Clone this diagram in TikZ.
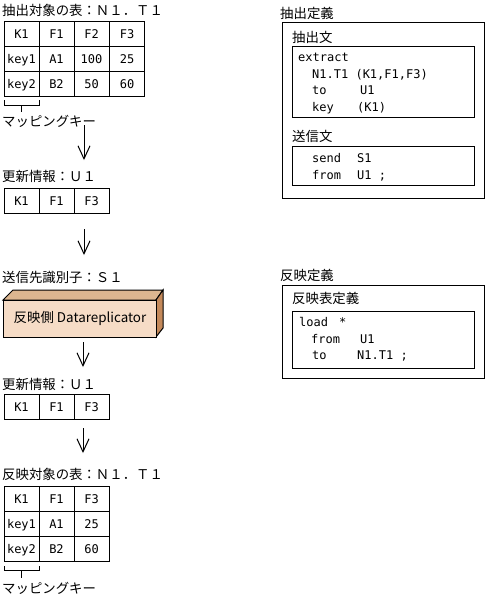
\documentclass[tikz,border=0pt]{standalone}
\usepackage{fontspec}
\newfontfamily\jpfont{Noto Sans CJK JP}
\newfontfamily\monofont{DejaVu Sans Mono}
\usetikzlibrary{arrows.meta}
\definecolor{boxfront}{HTML}{F6DCC6}
\definecolor{boxtop}{HTML}{DCB690}
\definecolor{boxside}{HTML}{C4895A}
\tikzset{
  cell/.style={draw, line width=1pt, minimum width=35pt, minimum height=25pt, inner sep=0pt,
    font=\monofont\fontsize{12}{14}\selectfont, text height=9pt, text depth=0pt},
  ttl/.style={anchor=west, inner sep=0pt, font=\jpfont\fontsize{13.4}{15}\selectfont},
  code/.style={anchor=base west, inner sep=0pt, font=\monofont\fontsize{12}{14}\selectfont},
  frame/.style={draw, line width=1pt},
  flow/.style={draw, line width=1pt, -{Straight Barb[length=13pt,width=12pt,line width=1pt]}},
}
\begin{document}
\begin{tikzpicture}[x=1pt,y=-1pt]
\useasboundingbox (0,0) rectangle (487,600);

% ---------- left column ----------
\node[ttl] (t1) at (2,10) {抽出対象の表：Ｎ１．Ｔ１};
\node[cell] (a11) at (21.5,34) {K1};
\node[cell] (a12) at (56.5,34) {F1};
\node[cell] (a13) at (91.5,34) {F2};
\node[cell] (a14) at (127,34) {F3};
\node[cell] (a21) at (21.5,59) {key1};
\node[cell] (a22) at (56.5,59) {A1};
\node[cell] (a23) at (91.5,59) {100};
\node[cell] (a24) at (127,59) {25};
\node[cell] (a31) at (21.5,84) {key2};
\node[cell] (a32) at (56.5,84) {B2};
\node[cell] (a33) at (91.5,84) {50};
\node[cell] (a34) at (127,84) {60};
\draw[line width=1pt] (4,100) -- (4,105) -- (39,105) -- (39,100);
\draw[line width=1pt] (21.5,105) -- (21.5,112);
\node[ttl] (mk1) at (2,121.5) {マッピングキー};

\coordinate (f1s) at (84,125);
\coordinate (f1e) at (84,160);
\draw[flow] (f1s) -- (f1e);

\node[ttl] (t2) at (2,176) {更新情報：Ｕ１};
\node[cell] (b1) at (21.5,200.5) {K1};
\node[cell] (b2) at (56.5,200.5) {F1};
\node[cell] (b3) at (91.5,200.5) {F3};

\coordinate (f2s) at (84,229);
\coordinate (f2e) at (84,255);
\draw[flow] (f2s) -- (f2e);

\node[ttl] (t3) at (2,277) {送信先識別子：Ｓ１};
\draw[line width=1pt, fill=boxtop] (3,300) -- (13,290) -- (163,290) -- (156,300) -- cycle;
\draw[line width=1pt, fill=boxside] (156,300) -- (163,290) -- (163,328) -- (156,337) -- cycle;
\draw[line width=1pt, fill=boxfront] (3,300) rectangle (156,337);
\node[inner sep=0pt, font=\jpfont\fontsize{13.4}{15}\selectfont] (dr) at (80,318.5) {反映側 Datareplicator};

\coordinate (f3s) at (83,342);
\coordinate (f3e) at (83,367);
\draw[flow] (f3s) -- (f3e);

\node[ttl] (t4) at (2,384) {更新情報：Ｕ１};
\node[cell] (c1) at (21.5,406.8) {K1};
\node[cell] (c2) at (56.5,406.8) {F1};
\node[cell] (c3) at (91.5,406.8) {F3};

\coordinate (f4s) at (83,428);
\coordinate (f4e) at (83,453);
\draw[flow] (f4s) -- (f4e);

\node[ttl] (t5) at (2,474) {反映対象の表：Ｎ１．Ｔ１};
\node[cell] (d11) at (21.5,499.2) {K1};
\node[cell] (d12) at (56.5,499.2) {F1};
\node[cell] (d13) at (91.5,499.2) {F3};
\node[cell] (d21) at (21.5,524.2) {key1};
\node[cell] (d22) at (56.5,524.2) {A1};
\node[cell] (d23) at (91.5,524.2) {25};
\node[cell] (d31) at (21.5,549.2) {key2};
\node[cell] (d32) at (56.5,549.2) {B2};
\node[cell] (d33) at (91.5,549.2) {60};
\draw[line width=1pt] (4,566) -- (4,570.5) -- (39,570.5) -- (39,566);
\draw[line width=1pt] (21.5,570.5) -- (21.5,578);
\node[ttl] (mk2) at (2,588) {マッピングキー};

% ---------- right column ----------
\node[ttl] (r1) at (280,13) {抽出定義};
\draw[frame] (282,22) rectangle (484,198);
\node[ttl] (r2) at (292,37) {抽出文};
\draw[frame] (292.3,46.7) rectangle (474,117.3);
\node[code] (e1) at (298,61.5) {extract};
\node[code] (e2) at (298,78.2) {\hspace*{14pt}N1.T1 (K1,F1,F3)};
\node[code] (e3) at (298,94.9) {\hspace*{14pt}\makebox[48pt][l]{to}U1};
\node[code] (e4) at (298,111.6) {\hspace*{14pt}\makebox[45pt][l]{key}(K1)};
\node[ttl] (r3) at (292,136) {送信文};
\draw[frame] (292.3,146.7) rectangle (474,185);
\node[code] (s1) at (298,162.5) {\hspace*{14pt}\makebox[45pt][l]{send}S1};
\node[code] (s2) at (298,179.2) {\hspace*{14pt}\makebox[45pt][l]{from}U1 ;};

\node[ttl] (r4) at (280,275) {反映定義};
\draw[frame] (282,285) rectangle (484,378.3);
\node[ttl] (r5) at (292,298) {反映表定義};
\draw[frame] (292.3,311) rectangle (474,368.3);
\node[code] (l1) at (299,326.5) {\makebox[40pt][l]{load}*};
\node[code] (l2) at (298,343.2) {\hspace*{13pt}\makebox[49pt][l]{from}U1};
\node[code] (l3) at (298,359.9) {\hspace*{14pt}\makebox[45pt][l]{to}N1.T1 ;};
\end{tikzpicture}
\end{document}
